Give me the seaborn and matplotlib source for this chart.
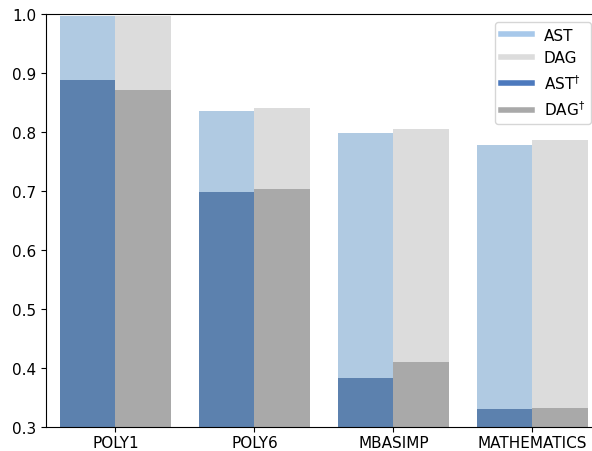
import matplotlib
matplotlib.use("Agg")
import matplotlib.pyplot as plt
from matplotlib.lines import Line2D
import pandas as pd
import seaborn as sns

# Benchmark suites and accuracy scores per representation
benchmarks = ["POLY1", "POLY6", "MBASIMP", "MATHEMATICS"]
ast_scores = [0.997, 0.836, 0.798, 0.777]
dag_scores = [0.997, 0.841, 0.805, 0.787]
ast_dagger_scores = [0.888, 0.699, 0.383, 0.330]
dag_dagger_scores = [0.871, 0.704, 0.410, 0.332]

light_colors = ["#b0cae2", "#dcdcdc"]
dark_colors = ["#5c81ae", "#a9a9a9"]
legend_colors = ["#a7c8ea", "#dcdcdc", "#4c79bd", "#a9a9a9"]
legend_labels = ["AST", "DAG", "AST$^{\\dagger}$", "DAG$^{\\dagger}$"]

light_df = pd.DataFrame({
    "benchmark": benchmarks * 2,
    "repr": ["AST"] * 4 + ["DAG"] * 4,
    "score": ast_scores + dag_scores,
})
dark_df = pd.DataFrame({
    "benchmark": benchmarks * 2,
    "repr": ["AST"] * 4 + ["DAG"] * 4,
    "score": ast_dagger_scores + dag_dagger_scores,
})

plt.rcParams["font.family"] = ["DejaVu Sans"]
plt.rcParams["font.size"] = 11

fig = plt.figure(figsize=(5.92, 4.52), dpi=100)
ax = fig.add_axes([0.0777, 0.0531, 0.934, 0.914])

# Full-precision bars underneath, the † variants drawn on top
sns.barplot(data=light_df, x="benchmark", y="score", hue="repr",
            palette=light_colors, saturation=1, width=0.8, ax=ax,
            legend=False, errorbar=None)
sns.barplot(data=dark_df, x="benchmark", y="score", hue="repr",
            palette=dark_colors, saturation=1, width=0.8, ax=ax,
            legend=False, errorbar=None)

ax.set_ylim(0.3, 1.0)
ax.set_xlim(-0.5, 3.478)
ax.set_xlabel("")
ax.set_ylabel("")
ax.spines["right"].set_visible(False)
ax.tick_params(axis="both", labelsize=11)
ax.tick_params(axis="x", pad=2.5)

handles = [Line2D([0], [0], color=c, lw=4) for c in legend_colors]
ax.legend(handles, legend_labels, loc="upper right", fontsize=11)

fig.savefig("out.png", dpi=100)
